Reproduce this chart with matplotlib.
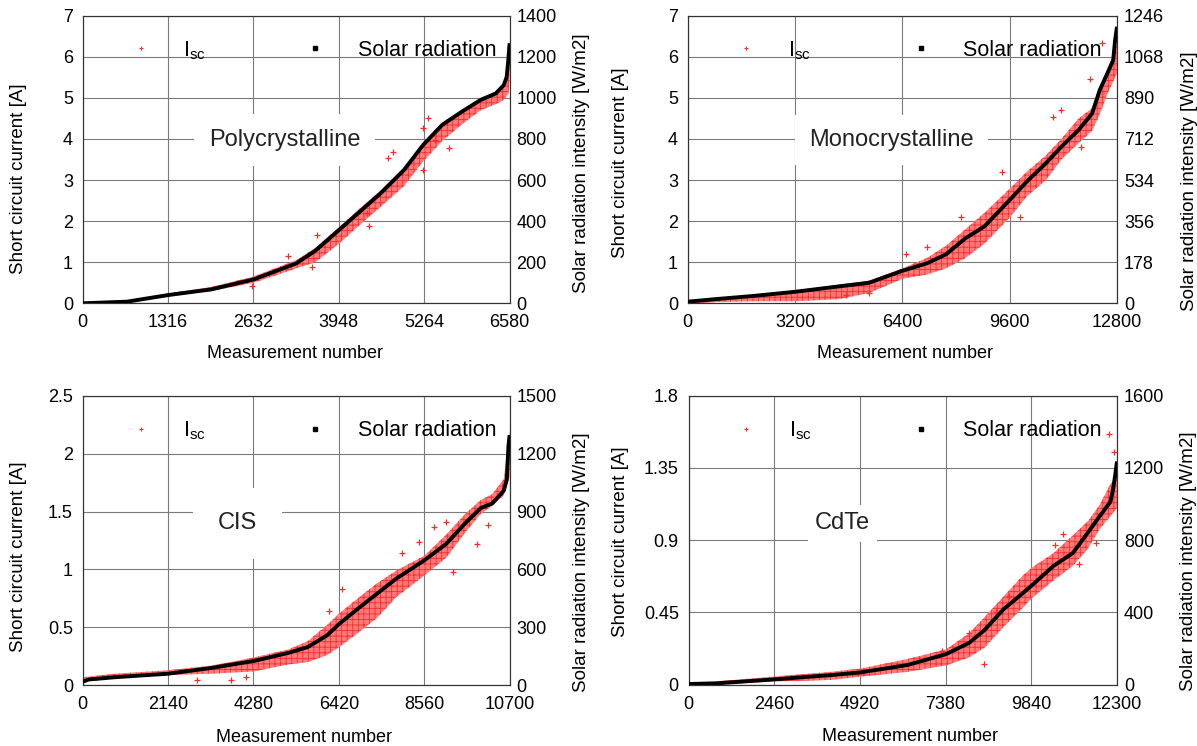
import matplotlib.pyplot as plt
from matplotlib.lines import Line2D

plt.rcParams.update({
    "font.family": ["Liberation Sans", "DejaVu Sans"],
    "mathtext.fontset": "custom",
    "mathtext.rm": "Liberation Sans",
    "hatch.linewidth": 0.6,
})

# --------------------------------------------------------------------------- #
# Polycrystalline
poly_x = [0, 684, 1316, 1986, 2632, 3290, 3586, 3948, 4300, 4594, 4950,
          5245, 5540, 5840, 6135, 6370, 6490, 6535, 6560, 6580]
poly_rad = [0, 8, 40, 68, 116, 194, 256, 356, 454, 536, 648,
            770, 868, 932, 990, 1022, 1062, 1102, 1184, 1266]
poly_band_x = [0, 684, 1316, 1986, 2632, 3290, 3586, 3948, 4300, 4594,
               4950, 5245, 5540, 5840, 6135, 6370, 6490, 6560, 6580]
poly_isc_lo = [0, 0.03, 0.17, 0.3, 0.5, 0.85, 1.0, 1.45, 1.95, 2.35,
               2.85, 3.45, 3.95, 4.35, 4.7, 4.85, 4.95, 5.1, 5.4]
poly_isc_hi = [0.03, 0.07, 0.24, 0.4, 0.65, 1.05, 1.35, 1.85, 2.35, 2.75,
               3.3, 3.9, 4.4, 4.7, 5.0, 5.15, 5.3, 5.5, 6.1]
poly_out_x = [3171, 3616, 4790, 5246, 5323, 5246, 5649, 4416, 3527, 2608,
              4387, 4713, 5424]
poly_out_y = [1.14, 1.66, 3.69, 4.26, 4.5, 3.24, 3.77, 1.87, 0.89, 0.41,
              2.19, 3.53, 3.97]

# Monocrystalline
mono_x = [0, 825, 1971, 3209, 4492, 5409, 6406, 7128, 7701, 8274, 8847,
          9615, 10108, 10681, 11140, 11656, 12057, 12286, 12515, 12687,
          12744, 12800]
mono_rad = [7, 18, 32, 50, 73, 89, 141, 173, 212, 281, 333,
            450, 527, 607, 678, 751, 822, 924, 997, 1054, 1141, 1198]
mono_band_x = [0, 825, 1971, 3209, 4492, 5409, 6406, 7128, 7701, 8274,
               8847, 9615, 10108, 10681, 11140, 11656, 12057, 12286,
               12515, 12687, 12800]
mono_isc_lo = [0, 0.03, 0.05, 0.05, 0.1, 0.25, 0.6, 0.7, 0.85, 1.1,
               1.45, 2.1, 2.6, 3.0, 3.5, 3.9, 4.2, 4.6, 5.1, 5.4, 5.6]
mono_isc_hi = [0.05, 0.12, 0.2, 0.3, 0.45, 0.55, 0.85, 1.1, 1.4, 1.8,
               2.2, 2.8, 3.2, 3.6, 4.0, 4.5, 4.75, 5.2, 5.7, 6.0, 6.3]
mono_out_x = [11140, 10888, 12000, 9363, 8159, 6498, 9918, 11735, 12342,
              7128, 5409, 4721]
mono_out_y = [4.7, 4.54, 5.47, 3.2, 2.11, 1.2, 2.11, 3.81, 6.33,
              1.38, 0.24, 0.2]

# CIS
cis_x = [0, 145, 819, 2140, 3229, 4290, 5157, 5639, 6121, 6429, 6892,
         7374, 7856, 8569, 9108, 9590, 9976, 10265, 10554, 10631, 10670,
         10700]
cis_rad = [18, 30, 42, 60, 90, 126, 168, 198, 258, 318, 396,
           474, 552, 648, 732, 840, 918, 942, 1008, 1068, 1236, 1296]
cis_band_x = [0, 819, 2140, 3229, 4290, 5157, 5639, 6121, 6429, 6892,
              7374, 7856, 8569, 9108, 9590, 9976, 10265, 10554, 10700]
cis_isc_lo = [0.03, 0.06, 0.09, 0.1, 0.12, 0.18, 0.2, 0.26, 0.33, 0.45,
              0.58, 0.76, 0.95, 1.1, 1.32, 1.48, 1.55, 1.64, 1.8]
cis_isc_hi = [0.07, 0.1, 0.13, 0.17, 0.24, 0.31, 0.38, 0.52, 0.62, 0.75,
              0.88, 0.99, 1.12, 1.3, 1.48, 1.6, 1.65, 1.78, 2.2]
cis_out_x = [8799, 9108, 6487, 8002, 9291, 9880, 10150, 2863, 3711, 4097,
             6169, 8436]
cis_out_y = [1.37, 1.41, 0.83, 1.14, 0.98, 1.22, 1.38, 0.05, 0.05, 0.07,
             0.64, 1.24]

# CdTe
cdte_x = [0, 772, 2427, 4082, 4931, 6288, 7391, 8052, 8494, 9045, 9597,
          9862, 10480, 11031, 11472, 11803, 12112, 12189, 12245, 12300]
cdte_rad = [4, 7, 29, 53, 68, 109, 169, 231, 302, 418, 507,
            551, 658, 729, 844, 933, 1013, 1084, 1156, 1236]
cdte_band_x = [0, 772, 2427, 4082, 4931, 6288, 7391, 8052, 8494, 9045,
               9597, 9862, 10480, 11031, 11472, 11803, 12112, 12300]
cdte_isc_lo = [0, 0.0, 0.02, 0.03, 0.05, 0.08, 0.12, 0.17, 0.23, 0.36,
               0.48, 0.54, 0.65, 0.74, 0.85, 0.97, 1.05, 1.1]
cdte_isc_hi = [0.015, 0.02, 0.05, 0.08, 0.1, 0.16, 0.22, 0.32, 0.42, 0.55,
               0.68, 0.73, 0.82, 0.93, 1.02, 1.12, 1.25, 1.3]
cdte_out_x = [12078, 12221, 10754, 10534, 11692, 11195, 9211, 8824, 8052,
              7281, 8494]
cdte_out_y = [1.56, 1.45, 0.94, 0.87, 0.88, 0.75, 0.55, 0.45, 0.32,
              0.21, 0.13]

names = ["Polycrystalline", "Monocrystalline", "CIS", "CdTe"]
x_ticks = [[0, 1316, 2632, 3948, 5264, 6580],
           [0, 3200, 6400, 9600, 12800],
           [0, 2140, 4280, 6420, 8560, 10700],
           [0, 2460, 4920, 7380, 9840, 12300]]
isc_ticks = [[0, 1, 2, 3, 4, 5, 6, 7],
             [0, 1, 2, 3, 4, 5, 6, 7],
             [0, 0.5, 1, 1.5, 2, 2.5],
             [0, 0.45, 0.9, 1.35, 1.8]]
rad_ticks = [[0, 200, 400, 600, 800, 1000, 1200, 1400],
             [0, 178, 356, 534, 712, 890, 1068, 1246],
             [0, 300, 600, 900, 1200, 1500],
             [0, 400, 800, 1200, 1600]]

series = [
    (poly_x, poly_rad, poly_band_x, poly_isc_lo, poly_isc_hi, poly_out_x, poly_out_y),
    (mono_x, mono_rad, mono_band_x, mono_isc_lo, mono_isc_hi, mono_out_x, mono_out_y),
    (cis_x, cis_rad, cis_band_x, cis_isc_lo, cis_isc_hi, cis_out_x, cis_out_y),
    (cdte_x, cdte_rad, cdte_band_x, cdte_isc_lo, cdte_isc_hi, cdte_out_x, cdte_out_y),
]

# --------------------------------------------------------------------------- #
W, H = 1197, 746
boxes = [(82.7, 15.7, 509.6, 303.3), (687.7, 15.7, 1117, 303.3),
         (82.7, 395.7, 509.6, 685.3), (688.5, 395.7, 1117, 684.7)]
name_pos = [(0.473, 0.568, 0.63), (0.474, 0.568, 0.6),
            (0.362, 0.559, 1.05), (0.36, 0.558, 0.3)]
ylab_left = [(-0.13, 0.432), (-0.137, 0.488), (-0.13, 0.443), (-0.139, 0.495)]
ylab_right = [(1.148, 0.488), (1.148, 0.425), (1.148, 0.426), (1.148, 0.426)]
xlab = [(0.497, -0.145), (0.507, -0.145), (0.518, -0.151), (0.517, -0.151)]

fig = plt.figure(figsize=(W / 100, H / 100), dpi=100)

for k in range(4):
    rx, rad, bx, lo, hi, ox, oy = series[k]
    l, t, r, b = boxes[k]
    ax = fig.add_axes([l / W, 1 - b / H, (r - l) / W, (b - t) / H])

    ax.fill_between(bx, lo, hi, facecolor="#ff7a7a", edgecolor="#ff2a2a",
                    hatch="+++", lw=0, zorder=2)
    ax.plot(ox, oy, "+", color="#ff2a2a", ms=4, mew=0.9, zorder=3)

    ax.set_xlim(0, x_ticks[k][-1])
    ax.set_ylim(0, isc_ticks[k][-1])
    ax.set_xticks(x_ticks[k])
    ax.set_yticks(isc_ticks[k], labels=[f"{v:g}" for v in isc_ticks[k]])
    ax.grid(True, color="#7a7a7a", lw=0.8, zorder=1)
    ax.set_axisbelow(True)
    ax.tick_params(axis="both", length=0, labelsize=13)
    ax.tick_params(axis="y", pad=7)
    ax.tick_params(axis="x", pad=8)
    for s in ax.spines.values():
        s.set_color("#333333")
        s.set_linewidth(0.8)

    ax.set_xlabel("Measurement number", fontsize=13)
    ax.xaxis.set_label_coords(*xlab[k])
    ax.set_ylabel("Short circuit current [A]", fontsize=13.5)
    ax.yaxis.set_label_coords(*ylab_left[k])

    ax2 = ax.twinx()
    ax2.plot(rx, rad, color="black", lw=2.8, solid_capstyle="butt", zorder=4)
    ax2.set_ylim(0, rad_ticks[k][-1])
    ax2.set_yticks(rad_ticks[k])
    ax2.tick_params(axis="y", length=0, labelsize=13, pad=5)
    for s in ax2.spines.values():
        s.set_color("#333333")
        s.set_linewidth(0.8)
    ax2.set_ylabel("Solar radiation intensity [W/m2]", fontsize=13.5)
    ax2.yaxis.set_label_coords(*ylab_right[k])

    nx, ny, npad = name_pos[k]
    ax2.text(nx, ny, names[k], transform=ax2.transAxes, fontsize=17,
             color="#222222", ha="center", va="center", zorder=6,
             bbox=dict(boxstyle=f"square,pad={npad}", fc="white", ec="none"))

    handles = [Line2D([], [], marker="+", color="#ff2a2a", ls="none", ms=3, mew=0.8),
               Line2D([], [], marker="s", color="black", ls="none", ms=3)]
    ax2.legend(handles, [r"I$_{\mathregular{sc}}$", "Solar radiation"],
               loc="center left", bbox_to_anchor=(0.085, 0.88), ncol=2,
               frameon=False, fontsize=15.5, handlelength=2,
               handletextpad=0.96, columnspacing=4.1, borderpad=0,
               borderaxespad=0)

plt.savefig("out.png", dpi=100)
